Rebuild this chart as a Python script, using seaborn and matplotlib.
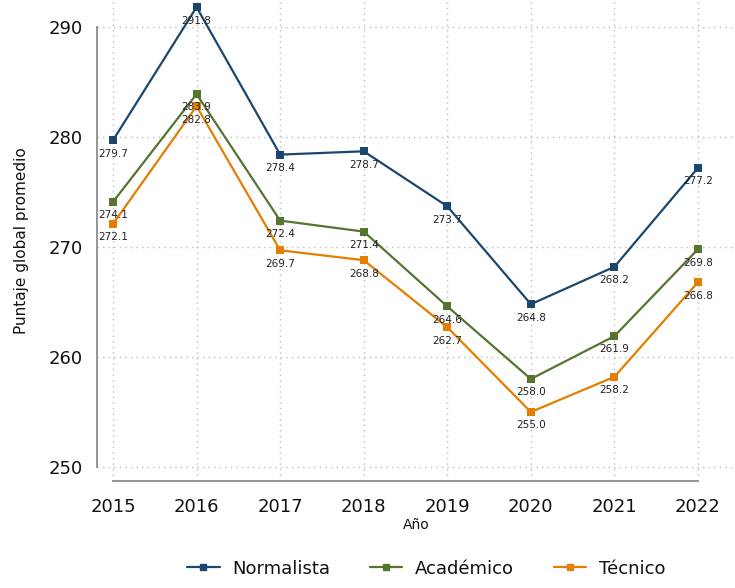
import seaborn as sns
import matplotlib.pyplot as plt
import pandas as pd

# data
years = [2015, 2016, 2017, 2018, 2019, 2020, 2021, 2022]
normalista = [279.7, 291.8, 278.4, 278.7, 273.7, 264.8, 268.2, 277.2]
academico = [274.1, 283.9, 272.4, 271.4, 264.6, 258.0, 261.9, 269.8]
tecnico = [272.1, 282.8, 269.7, 268.8, 262.7, 255.0, 258.2, 266.8]
series = ["Normalista", "Académico", "Técnico"]
colors = ["#1a476f", "#55752f", "#e37e00"]

df = pd.DataFrame({
    "Año": years * 3,
    "valor": normalista + academico + tecnico,
    "grupo": [s for s in series for _ in years],
})

sns.set_style("white")
plt.rcParams["font.family"] = ["DejaVu Sans"]

fig = plt.figure(figsize=(7.35, 5.88), dpi=100)
ax = fig.add_axes([97 / 735, 107 / 588, 638 / 735, 481 / 588])

sns.lineplot(data=df, x="Año", y="valor", hue="grupo", hue_order=series,
             palette=colors, marker="s", markersize=6, markeredgewidth=0,
             linewidth=1.6, ax=ax, legend=False)

# value labels under each marker
for s, vals in zip(series, [normalista, academico, tecnico]):
    for x, v in zip(years, vals):
        ax.annotate(f"{v:.1f}", (x, v), xytext=(0, -6), textcoords="offset points",
                    ha="center", va="top", fontsize=7.5, color="#222222")

ax.set_xlim(2015 - 16 / 83.57, 2022 + 37 / 83.57)
ax.set_ylim(250 - 14 / 11, 290 + 27 / 11)
ax.set_xticks(years)
ax.set_yticks([250, 260, 270, 280, 290])
ax.grid(True, linestyle=(0, (1, 3)), color="#bdbdbd", linewidth=1.0)

for side in ["top", "right"]:
    ax.spines[side].set_visible(False)
for side in ["left", "bottom"]:
    ax.spines[side].set_color("#8c8c8c")
    ax.spines[side].set_linewidth(1.3)
ax.spines["left"].set_bounds(250, 290)
ax.spines["bottom"].set_bounds(2015, 2022)
ax.tick_params(axis="both", length=6, width=1.1, color="#8c8c8c",
               labelsize=13, labelcolor="#111111", direction="out", pad=4)
ax.tick_params(axis="x", length=8)

ax.set_xlabel("Año", fontsize=10, labelpad=2, color="#111111")
ax.set_ylabel("Puntaje global promedio", fontsize=11, labelpad=14, color="#111111")

handles = [plt.Line2D([], [], color=c, marker="s", markersize=5, linewidth=1.6)
           for c in colors]
fig.legend(handles, series, loc="lower center", bbox_to_anchor=(0.58, -0.01),
           ncol=3, frameon=False, fontsize=13, handlelength=1.8,
           columnspacing=2.2, handletextpad=0.7, labelcolor="#111111")

fig.savefig("out.png", dpi=100)
